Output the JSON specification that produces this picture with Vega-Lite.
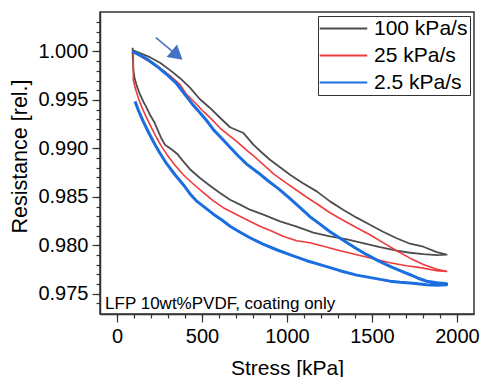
{
  "$schema": "https://vega.github.io/schema/vega-lite/v6.json",
  "width": 374,
  "height": 302,
  "autosize": {"type": "none"},
  "padding": {"left": 100, "top": 12, "right": 7, "bottom": 63},
  "config": {
    "font": "Liberation Sans",
    "view": {"stroke": "#333333", "strokeWidth": 1.5},
    "axis": {"domainColor": "#333333", "tickColor": "#333333", "labelColor": "#000000", "titleColor": "#000000", "labelFont": "Liberation Sans", "titleFont": "Liberation Sans", "titleFontWeight": "normal", "grid": false, "domainWidth": 1.5, "tickWidth": 1.2}
  },
  "datasets": {
    "curves": [
      {"s": "100 kPa/s", "i": 1, "x": 92, "y": 1.00013},
      {"s": "100 kPa/s", "i": 2, "x": 135, "y": 0.99982},
      {"s": "100 kPa/s", "i": 3, "x": 194, "y": 0.99941},
      {"s": "100 kPa/s", "i": 4, "x": 253, "y": 0.99884},
      {"s": "100 kPa/s", "i": 5, "x": 312, "y": 0.99807},
      {"s": "100 kPa/s", "i": 6, "x": 371, "y": 0.99724},
      {"s": "100 kPa/s", "i": 7, "x": 429, "y": 0.99626},
      {"s": "100 kPa/s", "i": 8, "x": 488, "y": 0.99507},
      {"s": "100 kPa/s", "i": 9, "x": 547, "y": 0.99417},
      {"s": "100 kPa/s", "i": 10, "x": 606, "y": 0.99316},
      {"s": "100 kPa/s", "i": 11, "x": 665, "y": 0.99218},
      {"s": "100 kPa/s", "i": 12, "x": 743, "y": 0.99159},
      {"s": "100 kPa/s", "i": 13, "x": 802, "y": 0.99038},
      {"s": "100 kPa/s", "i": 14, "x": 853, "y": 0.98955},
      {"s": "100 kPa/s", "i": 15, "x": 900, "y": 0.98883},
      {"s": "100 kPa/s", "i": 16, "x": 959, "y": 0.98806},
      {"s": "100 kPa/s", "i": 17, "x": 1018, "y": 0.98728},
      {"s": "100 kPa/s", "i": 18, "x": 1094, "y": 0.98641},
      {"s": "100 kPa/s", "i": 19, "x": 1175, "y": 0.98556},
      {"s": "100 kPa/s", "i": 20, "x": 1253, "y": 0.98453},
      {"s": "100 kPa/s", "i": 21, "x": 1330, "y": 0.98367},
      {"s": "100 kPa/s", "i": 22, "x": 1410, "y": 0.98285},
      {"s": "100 kPa/s", "i": 23, "x": 1488, "y": 0.98212},
      {"s": "100 kPa/s", "i": 24, "x": 1565, "y": 0.98140},
      {"s": "100 kPa/s", "i": 25, "x": 1645, "y": 0.98073},
      {"s": "100 kPa/s", "i": 26, "x": 1724, "y": 0.98016},
      {"s": "100 kPa/s", "i": 27, "x": 1802, "y": 0.97985},
      {"s": "100 kPa/s", "i": 28, "x": 1881, "y": 0.97929},
      {"s": "100 kPa/s", "i": 29, "x": 1939, "y": 0.97903},
      {"s": "100 kPa/s", "i": 30, "x": 1881, "y": 0.97898},
      {"s": "100 kPa/s", "i": 31, "x": 1802, "y": 0.97908},
      {"s": "100 kPa/s", "i": 32, "x": 1724, "y": 0.97923},
      {"s": "100 kPa/s", "i": 33, "x": 1645, "y": 0.97944},
      {"s": "100 kPa/s", "i": 34, "x": 1547, "y": 0.97980},
      {"s": "100 kPa/s", "i": 35, "x": 1447, "y": 0.98022},
      {"s": "100 kPa/s", "i": 36, "x": 1347, "y": 0.98063},
      {"s": "100 kPa/s", "i": 37, "x": 1253, "y": 0.98092},
      {"s": "100 kPa/s", "i": 38, "x": 1155, "y": 0.98130},
      {"s": "100 kPa/s", "i": 39, "x": 1057, "y": 0.98192},
      {"s": "100 kPa/s", "i": 40, "x": 959, "y": 0.98246},
      {"s": "100 kPa/s", "i": 41, "x": 861, "y": 0.98316},
      {"s": "100 kPa/s", "i": 42, "x": 782, "y": 0.98367},
      {"s": "100 kPa/s", "i": 43, "x": 724, "y": 0.98419},
      {"s": "100 kPa/s", "i": 44, "x": 665, "y": 0.98470},
      {"s": "100 kPa/s", "i": 45, "x": 606, "y": 0.98539},
      {"s": "100 kPa/s", "i": 46, "x": 547, "y": 0.98615},
      {"s": "100 kPa/s", "i": 47, "x": 488, "y": 0.98694},
      {"s": "100 kPa/s", "i": 48, "x": 429, "y": 0.98785},
      {"s": "100 kPa/s", "i": 49, "x": 390, "y": 0.98866},
      {"s": "100 kPa/s", "i": 50, "x": 353, "y": 0.98945},
      {"s": "100 kPa/s", "i": 51, "x": 324, "y": 0.98986},
      {"s": "100 kPa/s", "i": 52, "x": 282, "y": 0.99038},
      {"s": "100 kPa/s", "i": 53, "x": 259, "y": 0.99110},
      {"s": "100 kPa/s", "i": 54, "x": 243, "y": 0.99175},
      {"s": "100 kPa/s", "i": 55, "x": 218, "y": 0.99275},
      {"s": "100 kPa/s", "i": 56, "x": 194, "y": 0.99347},
      {"s": "100 kPa/s", "i": 57, "x": 171, "y": 0.99430},
      {"s": "100 kPa/s", "i": 58, "x": 155, "y": 0.99482},
      {"s": "100 kPa/s", "i": 59, "x": 131, "y": 0.99574},
      {"s": "100 kPa/s", "i": 60, "x": 116, "y": 0.99647},
      {"s": "100 kPa/s", "i": 61, "x": 103, "y": 0.99729},
      {"s": "100 kPa/s", "i": 62, "x": 96, "y": 0.99812},
      {"s": "100 kPa/s", "i": 63, "x": 94, "y": 0.99894},
      {"s": "100 kPa/s", "i": 64, "x": 92, "y": 0.99966},
      {"s": "100 kPa/s", "i": 65, "x": 92, "y": 1.00039},
      {"s": "25 kPa/s", "i": 1, "x": 90, "y": 1.00000},
      {"s": "25 kPa/s", "i": 2, "x": 155, "y": 0.99932},
      {"s": "25 kPa/s", "i": 3, "x": 253, "y": 0.99829},
      {"s": "25 kPa/s", "i": 4, "x": 312, "y": 0.99750},
      {"s": "25 kPa/s", "i": 5, "x": 371, "y": 0.99657},
      {"s": "25 kPa/s", "i": 6, "x": 410, "y": 0.99554},
      {"s": "25 kPa/s", "i": 7, "x": 459, "y": 0.99471},
      {"s": "25 kPa/s", "i": 8, "x": 508, "y": 0.99381},
      {"s": "25 kPa/s", "i": 9, "x": 559, "y": 0.99296},
      {"s": "25 kPa/s", "i": 10, "x": 606, "y": 0.99210},
      {"s": "25 kPa/s", "i": 11, "x": 653, "y": 0.99141},
      {"s": "25 kPa/s", "i": 12, "x": 704, "y": 0.99072},
      {"s": "25 kPa/s", "i": 13, "x": 759, "y": 0.98986},
      {"s": "25 kPa/s", "i": 14, "x": 822, "y": 0.98893},
      {"s": "25 kPa/s", "i": 15, "x": 871, "y": 0.98816},
      {"s": "25 kPa/s", "i": 16, "x": 919, "y": 0.98739},
      {"s": "25 kPa/s", "i": 17, "x": 988, "y": 0.98651},
      {"s": "25 kPa/s", "i": 18, "x": 1057, "y": 0.98568},
      {"s": "25 kPa/s", "i": 19, "x": 1112, "y": 0.98501},
      {"s": "25 kPa/s", "i": 20, "x": 1175, "y": 0.98429},
      {"s": "25 kPa/s", "i": 21, "x": 1253, "y": 0.98336},
      {"s": "25 kPa/s", "i": 22, "x": 1330, "y": 0.98259},
      {"s": "25 kPa/s", "i": 23, "x": 1410, "y": 0.98181},
      {"s": "25 kPa/s", "i": 24, "x": 1488, "y": 0.98109},
      {"s": "25 kPa/s", "i": 25, "x": 1565, "y": 0.98027},
      {"s": "25 kPa/s", "i": 26, "x": 1645, "y": 0.97944},
      {"s": "25 kPa/s", "i": 27, "x": 1724, "y": 0.97867},
      {"s": "25 kPa/s", "i": 28, "x": 1802, "y": 0.97801},
      {"s": "25 kPa/s", "i": 29, "x": 1881, "y": 0.97753},
      {"s": "25 kPa/s", "i": 30, "x": 1939, "y": 0.97731},
      {"s": "25 kPa/s", "i": 31, "x": 1881, "y": 0.97738},
      {"s": "25 kPa/s", "i": 32, "x": 1802, "y": 0.97764},
      {"s": "25 kPa/s", "i": 33, "x": 1704, "y": 0.97789},
      {"s": "25 kPa/s", "i": 34, "x": 1606, "y": 0.97820},
      {"s": "25 kPa/s", "i": 35, "x": 1508, "y": 0.97862},
      {"s": "25 kPa/s", "i": 36, "x": 1410, "y": 0.97903},
      {"s": "25 kPa/s", "i": 37, "x": 1312, "y": 0.97944},
      {"s": "25 kPa/s", "i": 38, "x": 1214, "y": 0.97989},
      {"s": "25 kPa/s", "i": 39, "x": 1135, "y": 0.98027},
      {"s": "25 kPa/s", "i": 40, "x": 1057, "y": 0.98047},
      {"s": "25 kPa/s", "i": 41, "x": 977, "y": 0.98094},
      {"s": "25 kPa/s", "i": 42, "x": 919, "y": 0.98140},
      {"s": "25 kPa/s", "i": 43, "x": 841, "y": 0.98197},
      {"s": "25 kPa/s", "i": 44, "x": 763, "y": 0.98264},
      {"s": "25 kPa/s", "i": 45, "x": 694, "y": 0.98326},
      {"s": "25 kPa/s", "i": 46, "x": 625, "y": 0.98388},
      {"s": "25 kPa/s", "i": 47, "x": 565, "y": 0.98460},
      {"s": "25 kPa/s", "i": 48, "x": 508, "y": 0.98543},
      {"s": "25 kPa/s", "i": 49, "x": 447, "y": 0.98635},
      {"s": "25 kPa/s", "i": 50, "x": 390, "y": 0.98728},
      {"s": "25 kPa/s", "i": 51, "x": 341, "y": 0.98826},
      {"s": "25 kPa/s", "i": 52, "x": 292, "y": 0.98940},
      {"s": "25 kPa/s", "i": 53, "x": 259, "y": 0.99028},
      {"s": "25 kPa/s", "i": 54, "x": 234, "y": 0.99107},
      {"s": "25 kPa/s", "i": 55, "x": 204, "y": 0.99208},
      {"s": "25 kPa/s", "i": 56, "x": 175, "y": 0.99313},
      {"s": "25 kPa/s", "i": 57, "x": 147, "y": 0.99420},
      {"s": "25 kPa/s", "i": 58, "x": 127, "y": 0.99512},
      {"s": "25 kPa/s", "i": 59, "x": 112, "y": 0.99595},
      {"s": "25 kPa/s", "i": 60, "x": 103, "y": 0.99652},
      {"s": "25 kPa/s", "i": 61, "x": 96, "y": 0.99708},
      {"s": "25 kPa/s", "i": 62, "x": 96, "y": 0.99812},
      {"s": "25 kPa/s", "i": 63, "x": 96, "y": 0.99915},
      {"s": "25 kPa/s", "i": 64, "x": 96, "y": 0.99997},
      {"s": "2.5 kPa/s", "i": 1, "x": 90, "y": 1.00001},
      {"s": "2.5 kPa/s", "i": 2, "x": 135, "y": 0.99961},
      {"s": "2.5 kPa/s", "i": 3, "x": 182, "y": 0.99915},
      {"s": "2.5 kPa/s", "i": 4, "x": 234, "y": 0.99848},
      {"s": "2.5 kPa/s", "i": 5, "x": 288, "y": 0.99770},
      {"s": "2.5 kPa/s", "i": 6, "x": 351, "y": 0.99667},
      {"s": "2.5 kPa/s", "i": 7, "x": 400, "y": 0.99554},
      {"s": "2.5 kPa/s", "i": 8, "x": 441, "y": 0.99461},
      {"s": "2.5 kPa/s", "i": 9, "x": 488, "y": 0.99368},
      {"s": "2.5 kPa/s", "i": 10, "x": 528, "y": 0.99285},
      {"s": "2.5 kPa/s", "i": 11, "x": 567, "y": 0.99193},
      {"s": "2.5 kPa/s", "i": 12, "x": 618, "y": 0.99100},
      {"s": "2.5 kPa/s", "i": 13, "x": 665, "y": 0.99012},
      {"s": "2.5 kPa/s", "i": 14, "x": 712, "y": 0.98924},
      {"s": "2.5 kPa/s", "i": 15, "x": 763, "y": 0.98837},
      {"s": "2.5 kPa/s", "i": 16, "x": 830, "y": 0.98749},
      {"s": "2.5 kPa/s", "i": 17, "x": 888, "y": 0.98666},
      {"s": "2.5 kPa/s", "i": 18, "x": 953, "y": 0.98579},
      {"s": "2.5 kPa/s", "i": 19, "x": 1018, "y": 0.98481},
      {"s": "2.5 kPa/s", "i": 20, "x": 1077, "y": 0.98388},
      {"s": "2.5 kPa/s", "i": 21, "x": 1135, "y": 0.98295},
      {"s": "2.5 kPa/s", "i": 22, "x": 1194, "y": 0.98218},
      {"s": "2.5 kPa/s", "i": 23, "x": 1253, "y": 0.98140},
      {"s": "2.5 kPa/s", "i": 24, "x": 1331, "y": 0.98052},
      {"s": "2.5 kPa/s", "i": 25, "x": 1400, "y": 0.97975},
      {"s": "2.5 kPa/s", "i": 26, "x": 1469, "y": 0.97903},
      {"s": "2.5 kPa/s", "i": 27, "x": 1535, "y": 0.97841},
      {"s": "2.5 kPa/s", "i": 28, "x": 1606, "y": 0.97782},
      {"s": "2.5 kPa/s", "i": 29, "x": 1665, "y": 0.97738},
      {"s": "2.5 kPa/s", "i": 30, "x": 1724, "y": 0.97696},
      {"s": "2.5 kPa/s", "i": 31, "x": 1771, "y": 0.97660},
      {"s": "2.5 kPa/s", "i": 32, "x": 1822, "y": 0.97629},
      {"s": "2.5 kPa/s", "i": 33, "x": 1881, "y": 0.97614},
      {"s": "2.5 kPa/s", "i": 34, "x": 1939, "y": 0.97604},
      {"s": "2.5 kPa/s", "i": 35, "x": 1939, "y": 0.97593},
      {"s": "2.5 kPa/s", "i": 36, "x": 1881, "y": 0.97588},
      {"s": "2.5 kPa/s", "i": 37, "x": 1822, "y": 0.97593},
      {"s": "2.5 kPa/s", "i": 38, "x": 1741, "y": 0.97609},
      {"s": "2.5 kPa/s", "i": 39, "x": 1665, "y": 0.97619},
      {"s": "2.5 kPa/s", "i": 40, "x": 1606, "y": 0.97630},
      {"s": "2.5 kPa/s", "i": 41, "x": 1508, "y": 0.97661},
      {"s": "2.5 kPa/s", "i": 42, "x": 1410, "y": 0.97692},
      {"s": "2.5 kPa/s", "i": 43, "x": 1312, "y": 0.97738},
      {"s": "2.5 kPa/s", "i": 44, "x": 1214, "y": 0.97790},
      {"s": "2.5 kPa/s", "i": 45, "x": 1116, "y": 0.97841},
      {"s": "2.5 kPa/s", "i": 46, "x": 1024, "y": 0.97898},
      {"s": "2.5 kPa/s", "i": 47, "x": 939, "y": 0.97954},
      {"s": "2.5 kPa/s", "i": 48, "x": 859, "y": 0.98011},
      {"s": "2.5 kPa/s", "i": 49, "x": 782, "y": 0.98078},
      {"s": "2.5 kPa/s", "i": 50, "x": 724, "y": 0.98135},
      {"s": "2.5 kPa/s", "i": 51, "x": 665, "y": 0.98197},
      {"s": "2.5 kPa/s", "i": 52, "x": 615, "y": 0.98264},
      {"s": "2.5 kPa/s", "i": 53, "x": 567, "y": 0.98321},
      {"s": "2.5 kPa/s", "i": 54, "x": 518, "y": 0.98388},
      {"s": "2.5 kPa/s", "i": 55, "x": 469, "y": 0.98455},
      {"s": "2.5 kPa/s", "i": 56, "x": 429, "y": 0.98532},
      {"s": "2.5 kPa/s", "i": 57, "x": 390, "y": 0.98625},
      {"s": "2.5 kPa/s", "i": 58, "x": 341, "y": 0.98728},
      {"s": "2.5 kPa/s", "i": 59, "x": 292, "y": 0.98842},
      {"s": "2.5 kPa/s", "i": 60, "x": 253, "y": 0.98950},
      {"s": "2.5 kPa/s", "i": 61, "x": 224, "y": 0.99038},
      {"s": "2.5 kPa/s", "i": 62, "x": 188, "y": 0.99156},
      {"s": "2.5 kPa/s", "i": 63, "x": 155, "y": 0.99275},
      {"s": "2.5 kPa/s", "i": 64, "x": 129, "y": 0.99378},
      {"s": "2.5 kPa/s", "i": 65, "x": 106, "y": 0.99485}
    ],
    "arrow": [{"x": 229, "y": 1.00142, "x2": 345, "y2": 0.99972}],
    "head": [{"x": 354, "y": 0.99961}],
    "note": [{"x": -70, "y": 0.97343, "t": "LFP 10wt%PVDF, coating only"}]
  },
  "layer": [
    {
      "data": {"name": "curves"},
      "transform": [{"filter": "datum.s === '100 kPa/s'"}],
      "mark": {"type": "line", "strokeJoin": "round", "strokeWidth": 1.8},
      "encoding": {
        "x": {"field": "x", "type": "quantitative", "scale": {"domain": [-100, 2100], "nice": false, "zero": false},
          "axis": {"orient": "bottom", "values": [0, 500, 1000, 1500, 2000], "format": "d", "tickSize": 8, "labelFontSize": 20, "titleFontSize": 21, "title": "Stress [kPa]", "labelPadding": 4, "titlePadding": 11, "labelFlush": false}},
        "y": {"field": "y", "type": "quantitative", "scale": {"domain": [0.97291, 1.00407], "nice": false, "zero": false},
          "axis": {"orient": "left", "values": [0.975, 0.98, 0.985, 0.99, 0.995, 1.0], "format": ".3f", "tickSize": 8, "labelFontSize": 20, "titleFontSize": 21.5, "title": "Resistance [rel.]", "labelPadding": 4, "titlePadding": 6, "titleY": 144}},
        "color": {"field": "s", "type": "nominal", "sort": null,
          "scale": {"domain": ["100 kPa/s", "25 kPa/s", "2.5 kPa/s"], "range": ["#4d4d4d", "#ef3b3b", "#1a6ee0"]},
          "legend": {"orient": "top-right", "offset": 4, "title": null, "padding": 2, "rowPadding": 5, "strokeColor": "#333333", "fillColor": "#ffffff", "labelFontSize": 21, "labelFont": "Liberation Sans", "labelColor": "#000000", "symbolType": "M-2.5,0H2.5", "symbolSize": 361, "symbolStrokeWidth": 2, "symbolOffset": 13, "labelOffset": 20}},
        "order": {"field": "i", "type": "quantitative"}
      }
    },
    {
      "data": {"name": "curves"},
      "transform": [{"filter": "datum.s === '25 kPa/s'"}],
      "mark": {"type": "line", "strokeJoin": "round", "strokeWidth": 1.6},
      "encoding": {
        "x": {"field": "x", "type": "quantitative", "axis": null},
        "y": {"field": "y", "type": "quantitative", "axis": null},
        "color": {"field": "s", "type": "nominal", "sort": null},
        "order": {"field": "i", "type": "quantitative"}
      }
    },
    {
      "data": {"name": "curves"},
      "transform": [{"filter": "datum.s === '2.5 kPa/s'"}],
      "mark": {"type": "line", "strokeJoin": "round", "strokeWidth": 3},
      "encoding": {
        "x": {"field": "x", "type": "quantitative", "axis": null},
        "y": {"field": "y", "type": "quantitative", "axis": null},
        "color": {"field": "s", "type": "nominal", "sort": null},
        "order": {"field": "i", "type": "quantitative"}
      }
    },
    {
      "data": {"name": "arrow"},
      "mark": {"type": "rule", "color": "#4472c4", "strokeWidth": 1.5},
      "encoding": {
        "x": {"field": "x", "type": "quantitative", "axis": null},
        "y": {"field": "y", "type": "quantitative", "axis": null},
        "x2": {"field": "x2"},
        "y2": {"field": "y2"}
      }
    },
    {
      "data": {"name": "head"},
      "mark": {"type": "point", "shape": "triangle-right", "filled": true, "size": 260, "angle": 40, "color": "#4472c4", "opacity": 1},
      "encoding": {
        "x": {"field": "x", "type": "quantitative", "axis": null},
        "y": {"field": "y", "type": "quantitative", "axis": null}
      }
    },
    {
      "data": {"name": "note"},
      "mark": {"type": "text", "align": "left", "baseline": "alphabetic", "fontSize": 17, "font": "Liberation Sans", "color": "#000000"},
      "encoding": {
        "text": {"field": "t"},
        "x": {"field": "x", "type": "quantitative",
          "axis": {"orient": "bottom", "values": [0, 100, 200, 300, 400, 500, 600, 700, 800, 900, 1000, 1100, 1200, 1300, 1400, 1500, 1600, 1700, 1800, 1900, 2000], "tickSize": 4, "labels": false, "domain": false, "title": null, "grid": false}},
        "y": {"field": "y", "type": "quantitative",
          "axis": {"orient": "left", "values": [0.974, 0.975, 0.976, 0.977, 0.978, 0.979, 0.98, 0.981, 0.982, 0.983, 0.984, 0.985, 0.986, 0.987, 0.988, 0.989, 0.99, 0.991, 0.992, 0.993, 0.994, 0.995, 0.996, 0.997, 0.998, 0.999, 1.0, 1.001, 1.002, 1.003], "tickSize": 4, "labels": false, "domain": false, "title": null, "grid": false}}
      }
    }
  ],
  "resolve": {"axis": {"x": "independent", "y": "independent"}}
}
